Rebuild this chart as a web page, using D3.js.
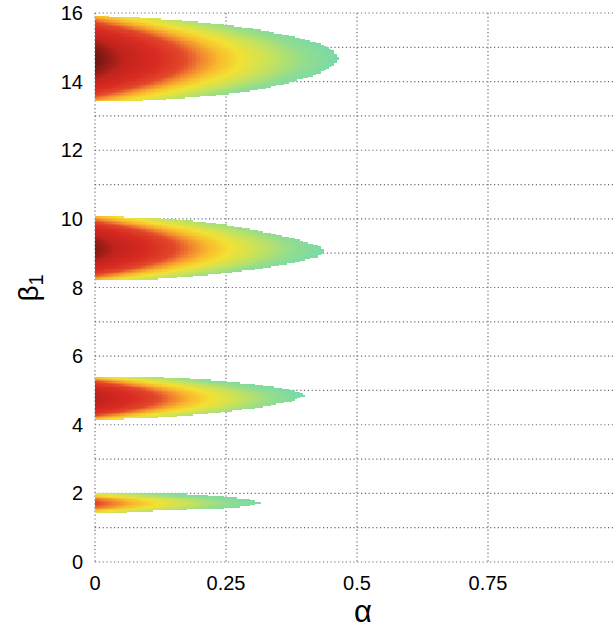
<!DOCTYPE html>
<html>
<head>
<meta charset="utf-8">
<script src="https://cdn.jsdelivr.net/npm/d3@7"></script>
<style>
  html, body { margin: 0; padding: 0; background: #fff; }
  svg { display: block; font-family: "Liberation Sans", Arial, Helvetica, sans-serif; }
</style>
</head>
<body>
<svg id="chart" width="614" height="629"></svg>
<script>
// ---- data ----
const xTicks = [0, 0.25, 0.5, 0.75, 1];
const xTickLabels = ["0", "0.25", "0.5", "0.75", "1"];
const yTicks = [0, 2, 4, 6, 8, 10, 12, 14, 16];
const yGrid = [0,1,2,3,4,5,6,7,8,9,10,11,12,13,14,15,16];

// boundary of each region: alpha samples, upper and lower beta1 edge
const blob1Alpha  = [0, 0.053, 0.118, 0.181, 0.244, 0.309, 0.372, 0.424, 0.454, 0.464];
const blob1Top    = [15.91, 15.89, 15.83, 15.76, 15.66, 15.52, 15.33, 15.13, 14.89, 14.69];
const blob1Bottom = [13.43, 13.43, 13.48, 13.55, 13.64, 13.77, 13.99, 14.23, 14.48, 14.69];

const blob2Alpha  = [0, 0.054, 0.118, 0.181, 0.245, 0.309, 0.372, 0.423, 0.439];
const blob2Top    = [10.08, 10.06, 10.03, 9.95, 9.83, 9.66, 9.45, 9.22, 9.08];
const blob2Bottom = [8.23, 8.23, 8.26, 8.33, 8.43, 8.55, 8.72, 8.90, 9.08];

const blob3Alpha  = [0, 0.054, 0.118, 0.181, 0.245, 0.309, 0.372, 0.401];
const blob3Top    = [5.41, 5.41, 5.39, 5.34, 5.27, 5.17, 5.02, 4.88];
const blob3Bottom = [4.15, 4.18, 4.22, 4.29, 4.39, 4.51, 4.69, 4.88];

const blob4Alpha  = [0, 0.048, 0.108, 0.156, 0.197, 0.245, 0.29, 0.318];
const blob4Top    = [2.01, 2.01, 2.01, 2.0, 1.96, 1.9, 1.83, 1.75];
const blob4Bottom = [1.43, 1.45, 1.5, 1.53, 1.55, 1.58, 1.64, 1.75];

// peak level of each region (at alpha = 0, centre)
const blobPeak = [1.0, 0.97, 0.9, 0.64];

// colour map stops
const cmapStops  = [0, 0.14, 0.27, 0.4, 0.49, 0.56, 0.63, 0.74, 0.88, 1.0];
const cmapColors = ["#79d9a9", "#93dd8e", "#c4e25e", "#f3e132", "#f8ba2e", "#f28730", "#e2482a", "#d92b22", "#c2231d", "#6e1710"];

// ---- drawing ----
const W = 614, H = 629;
const svg = d3.select("#chart");
const x = d3.scaleLinear().domain([0, 1]).range([95, 619]);
const y = d3.scaleLinear().domain([0, 16]).range([562, 13]);
const color = d3.scaleLinear().domain(cmapStops).range(cmapColors).clamp(true);

// grid
const grid = svg.append("g").attr("stroke", "#6e6e6e").attr("stroke-width", 1.2)
  .attr("stroke-dasharray", "1.2,2.6").attr("fill", "none");
grid.selectAll("line.h").data(yGrid).join("line").attr("class", "h")
  .attr("x1", x(0)).attr("x2", W + 10).attr("y1", d => y(d)).attr("y2", d => y(d));
grid.selectAll("line.v").data(xTicks).join("line").attr("class", "v")
  .attr("x1", d => x(d)).attr("x2", d => x(d)).attr("y1", y(16)).attr("y2", y(0));

// heat regions
const blobs = [
  {alpha: blob1Alpha, top: blob1Top, bottom: blob1Bottom, peak: blobPeak[0]},
  {alpha: blob2Alpha, top: blob2Top, bottom: blob2Bottom, peak: blobPeak[1]},
  {alpha: blob3Alpha, top: blob3Top, bottom: blob3Bottom, peak: blobPeak[2]},
  {alpha: blob4Alpha, top: blob4Top, bottom: blob4Bottom, peak: blobPeak[3]}
];
const dA = 0.005, dB = 0.04;
const cells = [];
blobs.forEach(b => {
  const topAt = d3.scaleLinear().domain(b.alpha).range(b.top);
  const botAt = d3.scaleLinear().domain(b.alpha).range(b.bottom);
  const aMax = b.alpha[b.alpha.length - 1];
  const c0 = (b.top[0] + b.bottom[0]) / 2, h0 = (b.top[0] - b.bottom[0]) / 2;
  for (let a = 0; a + dA / 2 <= aMax + 1e-9; a += dA) {
    const am = a + dA / 2;
    const t = topAt(am), bt = botAt(am);
    const k0 = Math.floor(bt / dB) - 1, k1 = Math.ceil(t / dB) + 1;
    for (let k = k0; k <= k1; k++) {
      const bm = k * dB + dB / 2;
      if (bm < bt || bm > t) continue;
      const s = am / aMax, tt = Math.min(1, Math.abs(bm - c0) / h0);
      const v = Math.max(0, b.peak * (1 - s - 0.5 * tt * tt));
      cells.push({a0: a, a1: a + dA, b0: k * dB, b1: (k + 1) * dB, v});
    }
  }
});
svg.append("g").attr("shape-rendering", "crispEdges").selectAll("rect").data(cells).join("rect")
  .attr("x", d => x(d.a0)).attr("width", d => x(d.a1) - x(d.a0) + 0.6)
  .attr("y", d => y(d.b1)).attr("height", d => y(d.b0) - y(d.b1) + 0.6)
  .attr("fill", d => color(d.v));

// tick labels
svg.append("g").selectAll("text").data(yTicks).join("text")
  .attr("x", 83).attr("y", d => y(d) + 7).attr("text-anchor", "end")
  .attr("font-size", 20).attr("fill", "#000").text(d => d);
svg.append("g").selectAll("text").data(xTicks).join("text")
  .attr("x", d => x(d)).attr("y", 590).attr("text-anchor", "middle")
  .attr("font-size", 20).attr("fill", "#000").text((d, i) => xTickLabels[i]);

// axis titles
svg.append("text").attr("x", 363).attr("y", 622).attr("text-anchor", "middle")
  .attr("font-size", 31).attr("fill", "#000").text("α");
const yt = svg.append("text").attr("transform", "translate(38,288) rotate(-90)")
  .attr("text-anchor", "middle").attr("font-size", 28).attr("fill", "#000");
yt.append("tspan").text("β");
yt.append("tspan").attr("font-size", 20).attr("dy", 5).text("1");
</script>
</body>
</html>
